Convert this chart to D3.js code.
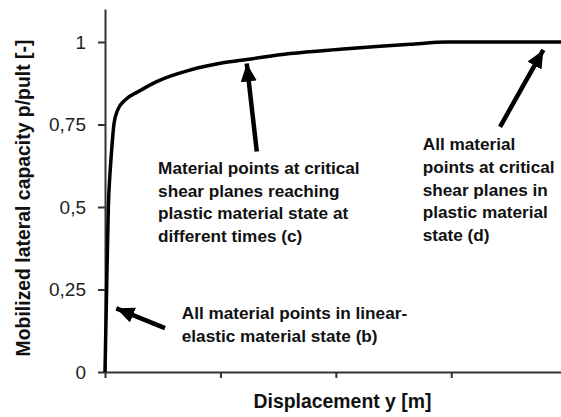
<!DOCTYPE html>
<html>
<head>
<meta charset="utf-8">
<script src="https://cdn.jsdelivr.net/npm/d3@7"></script>
<style>
  html, body { margin: 0; padding: 0; background: #fff; }
  svg { display: block; font-family: "Liberation Sans", Arial, sans-serif; }
</style>
</head>
<body>
<svg id="chart" width="561" height="417"></svg>
<script>
// Load-displacement curve: displacement (tick units) vs mobilized capacity p/pult
const displacement = [0, 0.014, 0.029, 0.045, 0.055, 0.078, 0.11, 0.173, 0.286, 0.448, 0.737, 1.023, 1.228, 1.603, 2.036, 2.383, 2.643, 2.961, 3.951];
const capacity     = [0, 0.25, 0.5, 0.61, 0.66, 0.752, 0.794, 0.824, 0.849, 0.88, 0.915, 0.937, 0.947, 0.965, 0.978, 0.987, 0.993, 1.0, 1.0];

const yTicks = [0, 0.25, 0.5, 0.75, 1];
const yTickLabels = ["0", "0,25", "0,5", "0,75", "1"];
const xTicks = [0, 1, 2, 3];

const xTitle = "Displacement y [m]";
const yTitle = "Mobilized lateral capacity p/pult [-]";

// Annotations: text lines with arrows (tail -> tip), in data units
const notes = [
  { lines: ["All material points in linear-", "elastic material state (b)"],
    tx: 0.665, ty: 0.16, tail: [0.52, 0.133], tip: [0.098, 0.193] },
  { lines: ["Material points at critical", "shear planes reaching", "plastic material state at", "different times (c)"],
    tx: 0.46, ty: 0.60, tail: [1.315, 0.668], tip: [1.228, 0.935] },
  { lines: ["All material", "points at critical", "shear planes in", "plastic material", "state (d)"],
    tx: 2.753, ty: 0.672, tail: [3.423, 0.743], tip: [3.798, 0.976] }
];

const svg = d3.select("#chart");
const m = { left: 105, right: 0, top: 9, bottom: 45 };
const W = 561, H = 417;

const x = d3.scaleLinear().domain([0, 3.951]).range([m.left, W - m.right]);
const y = d3.scaleLinear().domain([0, 1.1]).range([H - m.bottom, m.top]);

const axisColor = "#333";

// Y axis
const yAxis = svg.append("g")
  .attr("transform", `translate(${m.left},0)`)
  .call(d3.axisLeft(y).tickValues(yTicks).tickFormat((d, i) => yTickLabels[i]).tickSize(7).tickSizeOuter(0).tickPadding(12));
yAxis.select(".domain").attr("stroke", axisColor).attr("stroke-width", 2);
yAxis.selectAll(".tick line").attr("stroke", axisColor).attr("stroke-width", 2);
yAxis.selectAll(".tick text").attr("fill", "#222").style("font-size", "19px").attr("font-family", "Liberation Sans, Arial, sans-serif");

// X axis
const xAxis = svg.append("g")
  .attr("transform", `translate(0,${y(0)})`)
  .call(d3.axisBottom(x).tickValues(xTicks).tickFormat("").tickSize(6).tickSizeOuter(0));
xAxis.select(".domain").attr("stroke", axisColor).attr("stroke-width", 2);
xAxis.selectAll(".tick line").attr("stroke", axisColor).attr("stroke-width", 2);

// Axis titles
svg.append("text")
  .attr("x", 342.5)
  .attr("y", 408)
  .attr("text-anchor", "middle")
  .style("font-size", "19.4px").style("font-weight", "bold").attr("fill", "#111")
  .text(xTitle);

svg.append("text")
  .attr("transform", `translate(30,198) rotate(-90)`)
  .attr("text-anchor", "middle")
  .style("font-size", "19.4px").style("font-weight", "bold").attr("fill", "#111")
  .text(yTitle);

// Curve
const pts = displacement.map((d, i) => [d, capacity[i]]);
svg.append("path")
  .datum(pts)
  .attr("fill", "none")
  .attr("stroke", "#000")
  .attr("stroke-width", 3.5)
  .attr("stroke-linejoin", "round")
  .attr("d", d3.line().x(d => x(d[0])).y(d => y(d[1])).curve(d3.curveMonotoneX));

// Arrowhead
svg.append("defs").append("marker")
  .attr("id", "head")
  .attr("markerUnits", "userSpaceOnUse")
  .attr("viewBox", "0 0 18 16")
  .attr("refX", 18).attr("refY", 8)
  .attr("markerWidth", 18).attr("markerHeight", 16)
  .attr("orient", "auto")
  .append("path").attr("d", "M0,0 L18,8 L0,16 Z").attr("fill", "#000");

const g = svg.append("g");
notes.forEach(n => {
  g.append("line")
    .attr("x1", x(n.tail[0])).attr("y1", y(n.tail[1]))
    .attr("x2", x(n.tip[0])).attr("y2", y(n.tip[1]))
    .attr("stroke", "#000").attr("stroke-width", 4.5)
    .attr("marker-end", "url(#head)");
  const t = g.append("text")
    .attr("x", x(n.tx)).attr("y", y(n.ty))
    .style("font-size", "17.2px").style("font-weight", "bold").attr("fill", "#111");
  n.lines.forEach((l, i) => {
    t.append("tspan").attr("x", x(n.tx)).attr("dy", i === 0 ? 0 : 22.7).text(l);
  });
});
</script>
</body>
</html>
